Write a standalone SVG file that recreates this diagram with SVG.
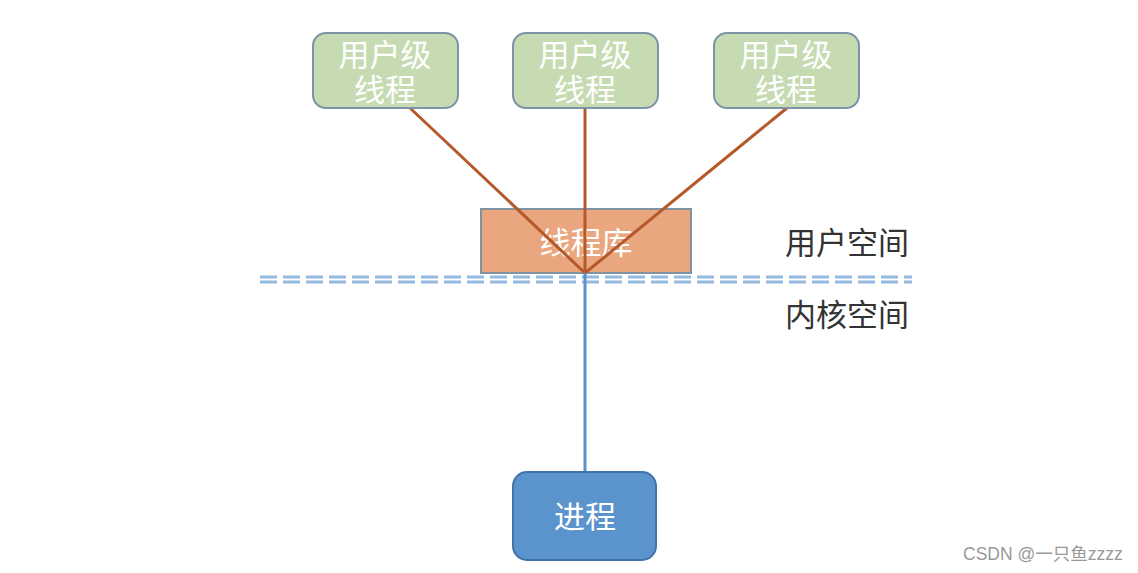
<svg xmlns="http://www.w3.org/2000/svg" width="1138" height="573" viewBox="0 0 1138 573">
<style>
.cjk{font-family:"Liberation Sans","Noto Sans CJK SC",sans-serif}
.ut{fill:#c6dbb2;stroke:#7d93a6;stroke-width:2}
.wt{fill:#ffffff;font-size:31px;text-anchor:middle}
.lbl{fill:#333333;font-size:31px}
.brown{stroke:#b5582a;stroke-width:3;fill:none}
.dash{stroke:#94bae0;stroke-width:3;stroke-dasharray:17 6;fill:none}
</style>
<rect width="1138" height="573" fill="#ffffff"/>
<g id="lib">
<rect x="481" y="209" width="210" height="64" fill="#eaa67e" stroke="#8193a3" stroke-width="2"/>
<text class="cjk wt" x="586" y="254">线程库</text>
</g>
<g id="connectors">
<line class="brown" x1="410" y1="108" x2="585" y2="273"/>
<line class="brown" x1="585" y1="108" x2="585" y2="273"/>
<line class="brown" x1="787" y1="108" x2="585" y2="273"/>
<line class="dash" x1="260" y1="277" x2="912" y2="277"/>
<line class="dash" x1="260" y1="282" x2="912" y2="282"/>
<line x1="585" y1="273" x2="585" y2="472" stroke="#5b90cb" stroke-width="3"/>
</g>
<g id="ut1">
<rect class="ut" x="313" y="33" width="145" height="75" rx="13"/>
<text class="cjk wt" x="385" y="66">用户级</text>
<text class="cjk wt" x="385" y="101">线程</text>
</g>
<g id="ut2">
<rect class="ut" x="513" y="33" width="145" height="75" rx="13"/>
<text class="cjk wt" x="585" y="66">用户级</text>
<text class="cjk wt" x="585" y="101">线程</text>
</g>
<g id="ut3">
<rect class="ut" x="714" y="33" width="145" height="75" rx="13"/>
<text class="cjk wt" x="786" y="66">用户级</text>
<text class="cjk wt" x="786" y="101">线程</text>
</g>
<g id="proc">
<rect x="513" y="472" width="143" height="88" rx="14" fill="#5b93cd" stroke="#4373a6" stroke-width="2"/>
<text class="cjk wt" x="585" y="528">进程</text>
</g>
<g id="labels">
<text class="cjk lbl" x="785" y="254">用户空间</text>
<text class="cjk lbl" x="785" y="326">内核空间</text>
</g>
<text class="cjk" x="963" y="560" font-size="17.5" fill="#999999">CSDN @一只鱼zzzz</text>
</svg>
